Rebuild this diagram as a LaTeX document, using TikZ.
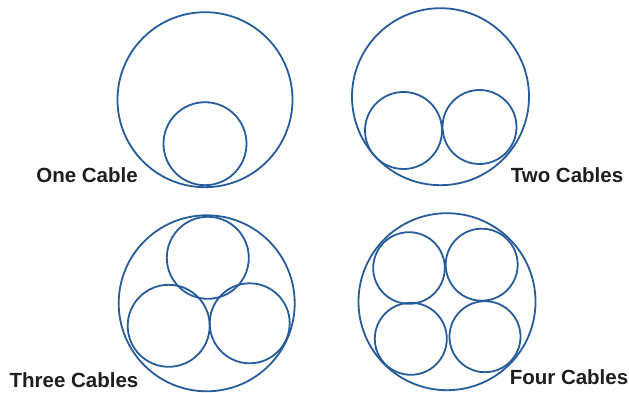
\documentclass[tikz,border=0pt]{standalone}
\usepackage{fontspec}
\setmainfont{Liberation Sans}
\usepackage{tikz}
\usetikzlibrary{positioning}
\definecolor{cBlue}{HTML}{275C9A}
\definecolor{cText}{HTML}{1E1E1E}

\begin{document}
\begin{tikzpicture}[x=1pt, y=-1pt,
  c/.style={draw=cBlue, line width=1.8pt},
  l/.style={font=\fontsize{20.5}{24}\selectfont\bfseries, text=cText, inner sep=0pt}]
\useasboundingbox (0,0) rectangle (629,393);
% one cable
\draw[c] (205,99.7) circle (87.5pt);
\draw[c] (205,143.7) circle (41.5pt);
\node[l] (one) at (87,175) {One Cable};
% two cables
\draw[c] (440.5,96.7) circle (88.5pt);
\draw[c] (403.5,130.5) circle (38.5pt);
\draw[c] (479.5,127) circle (37pt);
\node[l] (two) at (567,175) {Two Cables};
% three cables
\draw[c] (206.7,303.3) circle (88pt);
\draw[c] (207.8,257.8) circle (41pt);
\draw[c] (168.7,325.8) circle (41pt);
\draw[c] (249.7,323.3) circle (40pt);
\node[l] (three) at (74,380) {Three Cables};
% four cables
\draw[c] (447,301.7) circle (88.5pt);
\draw[c] (409,268) circle (35.8pt);
\draw[c] (481.7,264.7) circle (36pt);
\draw[c] (410.8,338.8) circle (36pt);
\draw[c] (485,336.7) circle (35.5pt);
\node[l] (four) at (569,377) {Four Cables};
\end{tikzpicture}
\end{document}
